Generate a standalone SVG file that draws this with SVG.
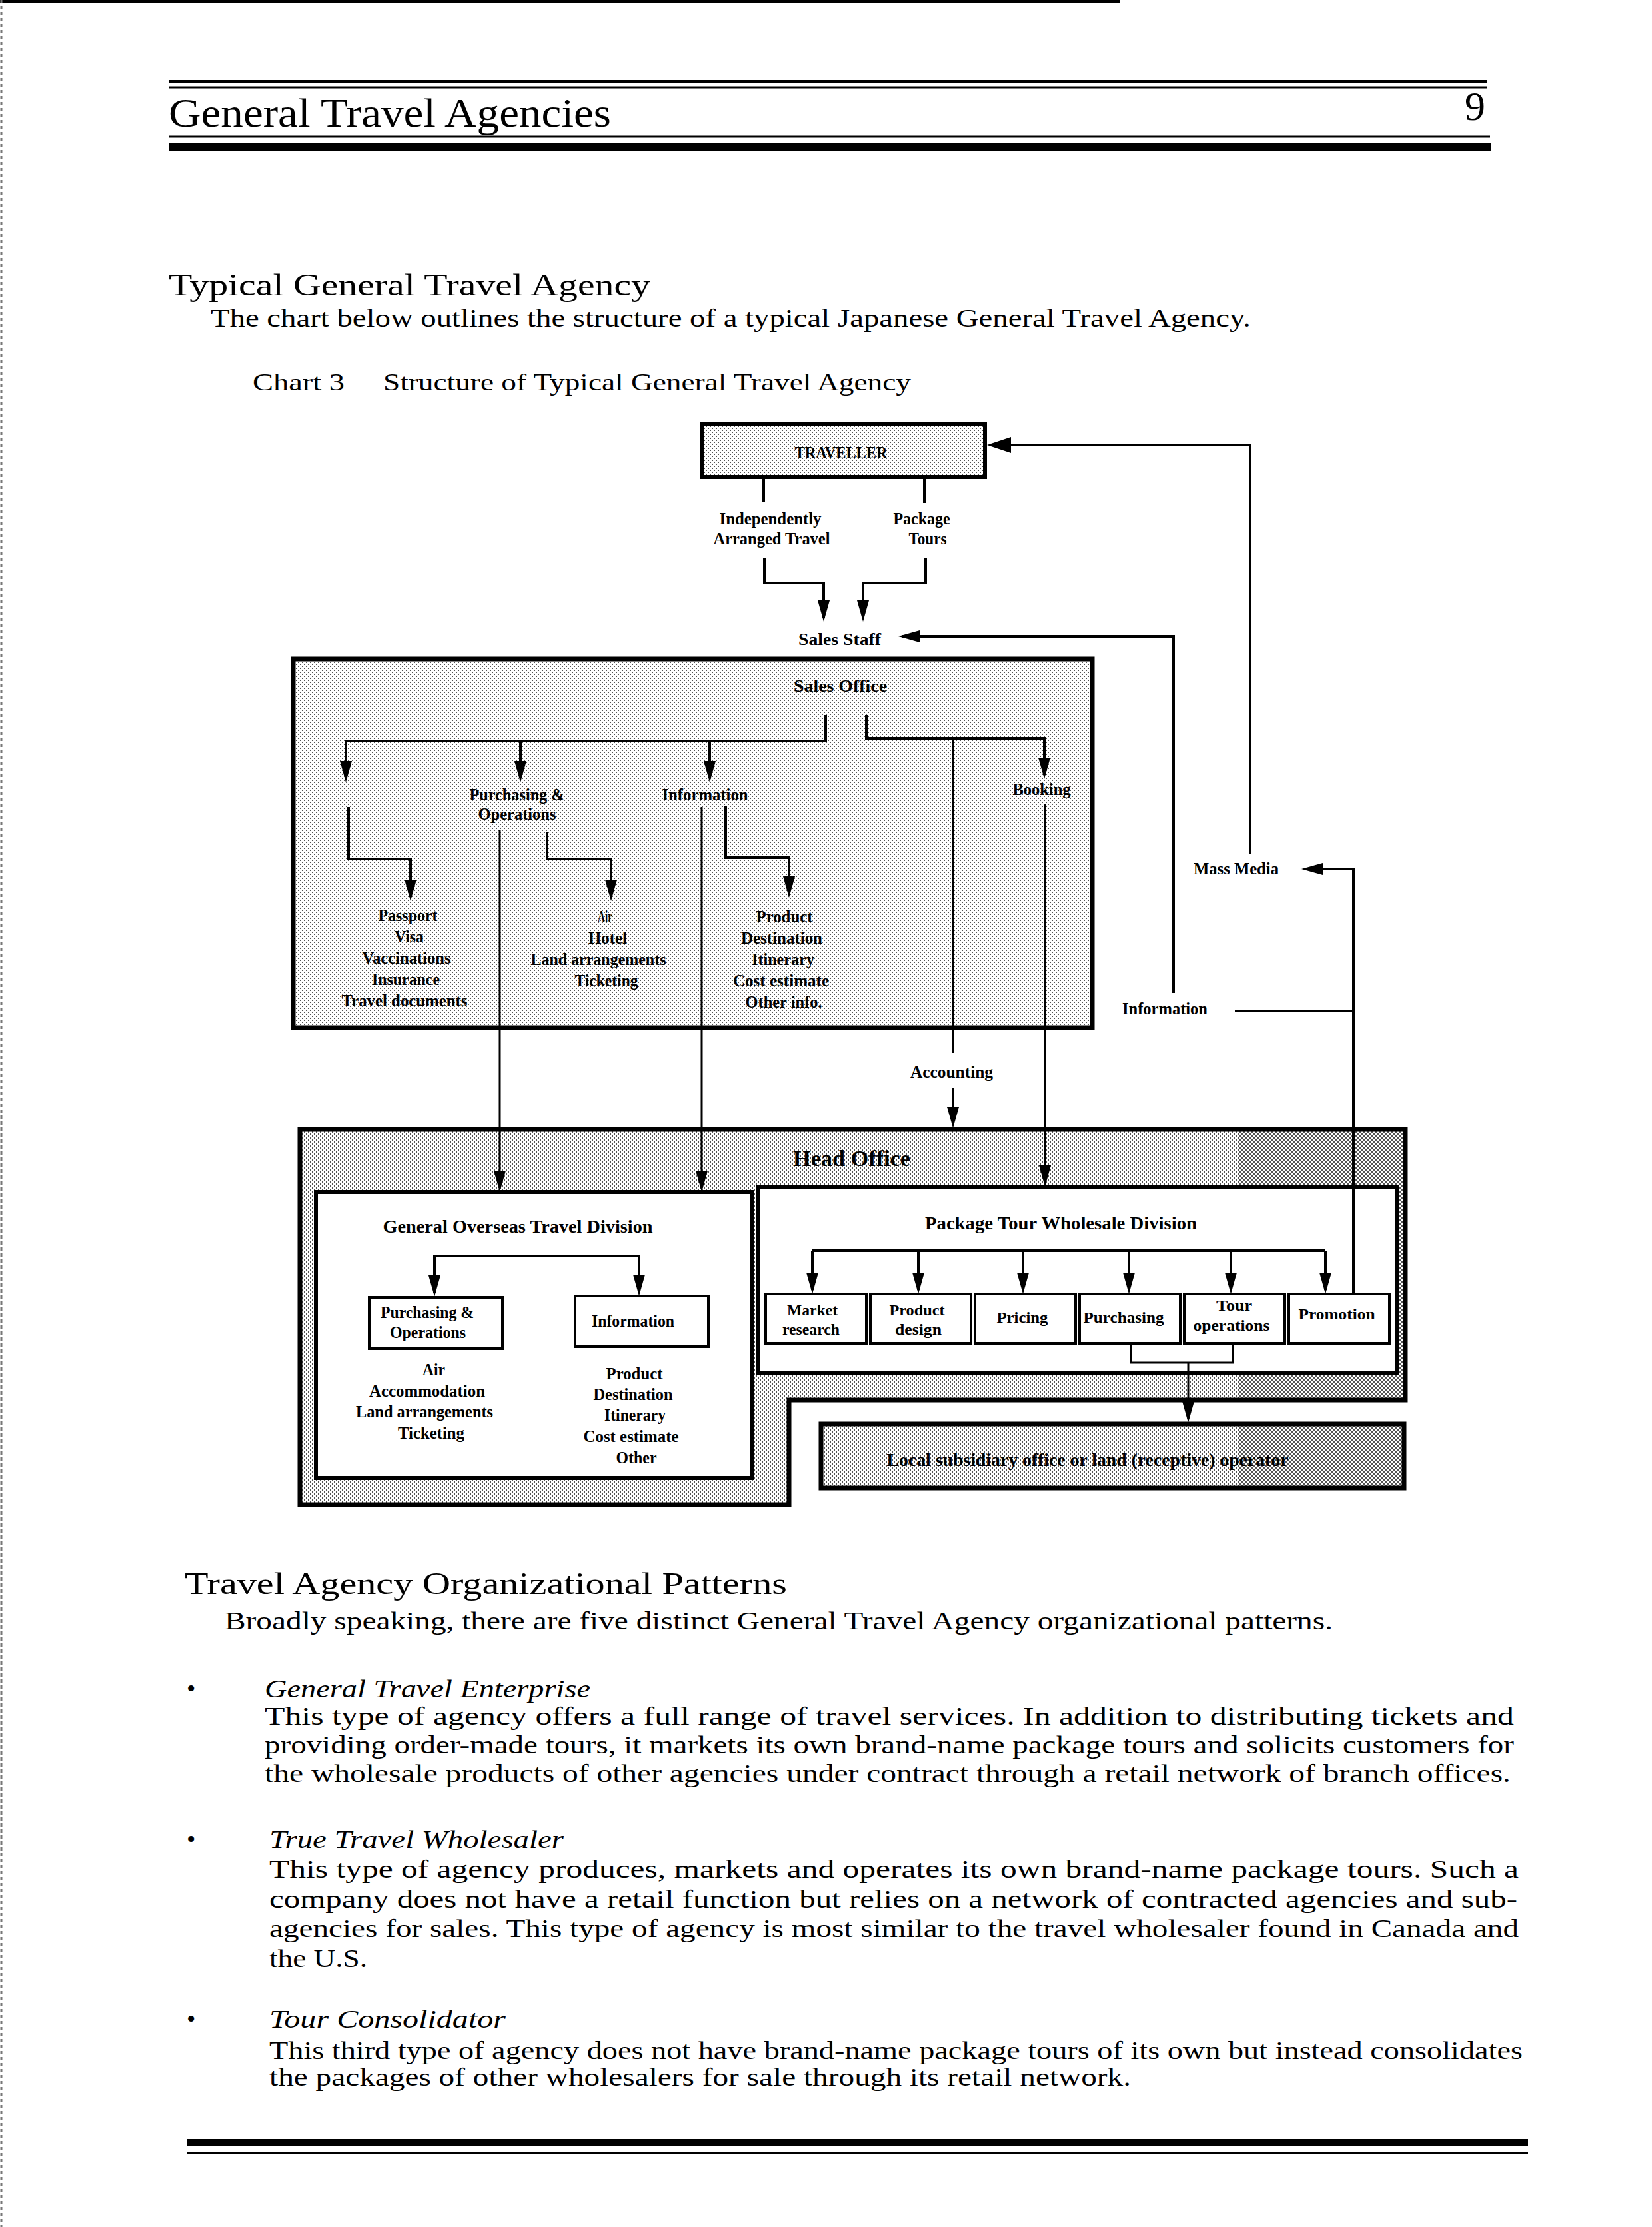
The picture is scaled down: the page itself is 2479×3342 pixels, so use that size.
<svg xmlns="http://www.w3.org/2000/svg" width="2479" height="3342" viewBox="0 0 2479 3342">
<defs>
<pattern id="dots" width="6" height="6" patternUnits="userSpaceOnUse"><rect width="6" height="6" fill="#fff"/><rect x="0" y="0" width="2" height="2" fill="#555"/><rect x="3" y="3" width="2" height="2" fill="#555"/></pattern>
<marker id="ah" viewBox="0 0 32 18" refX="26" refY="9" markerWidth="32" markerHeight="18" markerUnits="userSpaceOnUse" orient="auto"><path d="M0,0 L32,9 L0,18 Z" fill="#000"/></marker>
<marker id="ahb" viewBox="0 0 36 24" refX="30" refY="12" markerWidth="36" markerHeight="24" markerUnits="userSpaceOnUse" orient="auto"><path d="M0,0 L36,12 L0,24 Z" fill="#000"/></marker>
<style>
.t{font-family:"Liberation Serif","Times New Roman",serif;fill:#000}
.lb{font-weight:bold;font-size:26px;text-anchor:middle}
.bx{font-weight:bold;font-size:24px;text-anchor:middle}
.dv{font-weight:bold;font-size:28px;text-anchor:middle}
.bd{font-size:38px}
.hd{font-size:46px}
.it{font-style:italic}
.ln{fill:none;stroke:#000;stroke-width:4}
.lt{fill:none;stroke:#000;stroke-width:3}
</style>
</defs>
<rect width="2479" height="3342" fill="#fff"/>
<g id="page">
<line x1="0" y1="2" x2="1680" y2="2" stroke="#000" stroke-width="5"/>
<line x1="2" y1="0" x2="2" y2="3342" stroke="#777" stroke-width="3" stroke-dasharray="5 4"/>
<line x1="253" y1="122" x2="2232" y2="122" stroke="#000" stroke-width="4"/>
<line x1="253" y1="131" x2="2232" y2="131" stroke="#000" stroke-width="3"/>
<line x1="253" y1="205" x2="2236" y2="205" stroke="#000" stroke-width="3"/>
<rect x="253" y="215" width="1984" height="12" fill="#000"/>
<text class="t" x="253" y="190" font-size="62" textLength="664" lengthAdjust="spacingAndGlyphs">General Travel Agencies</text>
<text class="t" x="2229" y="180" font-size="62" text-anchor="end">9</text>
<text class="t hd" x="253" y="443" textLength="723" lengthAdjust="spacingAndGlyphs">Typical General Travel Agency</text>
<text class="t bd" x="316" y="490" textLength="1561" lengthAdjust="spacingAndGlyphs">The chart below outlines the structure of a typical Japanese General Travel Agency.</text>
<text class="t" x="379" y="586" font-size="36" textLength="138" lengthAdjust="spacingAndGlyphs">Chart 3</text>
<text class="t" x="575" y="586" font-size="36" textLength="792" lengthAdjust="spacingAndGlyphs">Structure of Typical General Travel Agency</text>
</g>
<g id="nodes">
<g id="traveller"><rect x="1054" y="636" width="424" height="80" fill="url(#dots)" stroke="#000" stroke-width="6"/><text class="t lb" x="1262" y="688" textLength="139" lengthAdjust="spacingAndGlyphs">TRAVELLER</text></g>
<g id="independent"><text class="t lb" x="1156" y="787" textLength="153" lengthAdjust="spacingAndGlyphs">Independently</text><text class="t lb" x="1158" y="817" textLength="175" lengthAdjust="spacingAndGlyphs">Arranged Travel</text></g>
<g id="package"><text class="t lb" x="1383" y="787" textLength="85" lengthAdjust="spacingAndGlyphs">Package</text><text class="t lb" x="1392" y="817" textLength="57" lengthAdjust="spacingAndGlyphs">Tours</text></g>
<g id="sales-staff"><text class="t lb" x="1260" y="968" textLength="124" lengthAdjust="spacingAndGlyphs">Sales Staff</text></g>
<g id="sales-office"><rect x="440" y="989" width="1199" height="553" fill="url(#dots)" stroke="#000" stroke-width="7"/><text class="t lb" x="1261" y="1038" textLength="140" lengthAdjust="spacingAndGlyphs">Sales Office</text></g>
<g id="so-purchasing"><text class="t lb" x="776" y="1201" textLength="143" lengthAdjust="spacingAndGlyphs">Purchasing &amp;</text><text class="t lb" x="776" y="1230" textLength="117" lengthAdjust="spacingAndGlyphs">Operations</text></g>
<g id="so-information"><text class="t lb" x="1058" y="1201" textLength="129" lengthAdjust="spacingAndGlyphs">Information</text></g>
<g id="so-booking"><text class="t lb" x="1563" y="1193" textLength="87" lengthAdjust="spacingAndGlyphs">Booking</text></g>
<g id="so-docs">
<text class="t lb" x="612" y="1382" textLength="89" lengthAdjust="spacingAndGlyphs">Passport</text>
<text class="t lb" x="614" y="1414" textLength="44" lengthAdjust="spacingAndGlyphs">Visa</text>
<text class="t lb" x="610" y="1446" textLength="133" lengthAdjust="spacingAndGlyphs">Vaccinations</text>
<text class="t lb" x="609" y="1478" textLength="102" lengthAdjust="spacingAndGlyphs">Insurance</text>
<text class="t lb" x="607" y="1510" textLength="189" lengthAdjust="spacingAndGlyphs">Travel documents</text>
</g>
<g id="so-services">
<text class="t lb" x="908" y="1384" textLength="22" lengthAdjust="spacingAndGlyphs">Air</text>
<text class="t lb" x="912" y="1416" textLength="58" lengthAdjust="spacingAndGlyphs">Hotel</text>
<text class="t lb" x="898" y="1448" textLength="203" lengthAdjust="spacingAndGlyphs">Land arrangements</text>
<text class="t lb" x="910" y="1480" textLength="95" lengthAdjust="spacingAndGlyphs">Ticketing</text>
</g>
<g id="so-info-list">
<text class="t lb" x="1177" y="1384" textLength="85" lengthAdjust="spacingAndGlyphs">Product</text>
<text class="t lb" x="1173" y="1416" textLength="122" lengthAdjust="spacingAndGlyphs">Destination</text>
<text class="t lb" x="1175" y="1448" textLength="94" lengthAdjust="spacingAndGlyphs">Itinerary</text>
<text class="t lb" x="1172" y="1480" textLength="144" lengthAdjust="spacingAndGlyphs">Cost estimate</text>
<text class="t lb" x="1176" y="1512" textLength="115" lengthAdjust="spacingAndGlyphs">Other info.</text>
</g>
<g id="mass-media"><text class="t lb" x="1855" y="1312" textLength="128" lengthAdjust="spacingAndGlyphs">Mass Media</text></g>
<g id="information-out"><text class="t lb" x="1748" y="1522" textLength="128" lengthAdjust="spacingAndGlyphs">Information</text></g>
<g id="accounting"><text class="t lb" x="1428" y="1617" textLength="124" lengthAdjust="spacingAndGlyphs">Accounting</text></g>
<g id="head-office"><path d="M450,1695 H2109 V2101 H1184 V2258 H450 Z" fill="url(#dots)" stroke="#000" stroke-width="7"/><text class="t" x="1278" y="1750" font-size="34" font-weight="bold" text-anchor="middle" textLength="176" lengthAdjust="spacingAndGlyphs">Head Office</text></g>
<g id="gotd"><rect x="474" y="1789" width="654" height="429" fill="#fff" stroke="#000" stroke-width="6"/><text class="t dv" x="777" y="1850" textLength="405" lengthAdjust="spacingAndGlyphs">General Overseas Travel Division</text></g>
<g id="gotd-purchasing"><rect x="554" y="1947" width="200" height="77" fill="#fff" stroke="#000" stroke-width="4"/><text class="t lb" x="641" y="1978" textLength="140" lengthAdjust="spacingAndGlyphs">Purchasing &amp;</text><text class="t lb" x="642" y="2008" textLength="114" lengthAdjust="spacingAndGlyphs">Operations</text></g>
<g id="gotd-information"><rect x="863" y="1945" width="200" height="76" fill="#fff" stroke="#000" stroke-width="4"/><text class="t lb" x="950" y="1991" textLength="124" lengthAdjust="spacingAndGlyphs">Information</text></g>
<g id="gotd-services">
<text class="t lb" x="651" y="2064" textLength="34" lengthAdjust="spacingAndGlyphs">Air</text>
<text class="t lb" x="641" y="2096" textLength="174" lengthAdjust="spacingAndGlyphs">Accommodation</text>
<text class="t lb" x="637" y="2127" textLength="206" lengthAdjust="spacingAndGlyphs">Land arrangements</text>
<text class="t lb" x="647" y="2159" textLength="100" lengthAdjust="spacingAndGlyphs">Ticketing</text>
</g>
<g id="gotd-info-list">
<text class="t lb" x="952" y="2070" textLength="85" lengthAdjust="spacingAndGlyphs">Product</text>
<text class="t lb" x="950" y="2101" textLength="119" lengthAdjust="spacingAndGlyphs">Destination</text>
<text class="t lb" x="953" y="2132" textLength="92" lengthAdjust="spacingAndGlyphs">Itinerary</text>
<text class="t lb" x="947" y="2164" textLength="143" lengthAdjust="spacingAndGlyphs">Cost estimate</text>
<text class="t lb" x="955" y="2196" textLength="61" lengthAdjust="spacingAndGlyphs">Other</text>
</g>
<g id="ptwd"><rect x="1138" y="1782" width="958" height="278" fill="#fff" stroke="#000" stroke-width="6"/><text class="t dv" x="1592" y="1845" textLength="408" lengthAdjust="spacingAndGlyphs">Package Tour Wholesale Division</text></g>
<g id="market-research"><rect x="1149" y="1942" width="151" height="74" fill="#fff" stroke="#000" stroke-width="4"/><text class="t bx" x="1219" y="1974" textLength="76" lengthAdjust="spacingAndGlyphs">Market</text><text class="t bx" x="1217" y="2003" textLength="86" lengthAdjust="spacingAndGlyphs">research</text></g>
<g id="product-design"><rect x="1306" y="1942" width="151" height="74" fill="#fff" stroke="#000" stroke-width="4"/><text class="t bx" x="1376" y="1974" textLength="83" lengthAdjust="spacingAndGlyphs">Product</text><text class="t bx" x="1378" y="2003" textLength="70" lengthAdjust="spacingAndGlyphs">design</text></g>
<g id="pricing"><rect x="1463" y="1942" width="151" height="74" fill="#fff" stroke="#000" stroke-width="4"/><text class="t bx" x="1534" y="1985" textLength="77" lengthAdjust="spacingAndGlyphs">Pricing</text></g>
<g id="purchasing"><rect x="1620" y="1942" width="151" height="74" fill="#fff" stroke="#000" stroke-width="4"/><text class="t bx" x="1686" y="1985" textLength="121" lengthAdjust="spacingAndGlyphs">Purchasing</text></g>
<g id="tour-operations"><rect x="1777" y="1942" width="151" height="74" fill="#fff" stroke="#000" stroke-width="4"/><text class="t bx" x="1852" y="1967" textLength="54" lengthAdjust="spacingAndGlyphs">Tour</text><text class="t bx" x="1848" y="1997" textLength="115" lengthAdjust="spacingAndGlyphs">operations</text></g>
<g id="promotion"><rect x="1934" y="1942" width="151" height="74" fill="#fff" stroke="#000" stroke-width="4"/><text class="t bx" x="2006" y="1980" textLength="115" lengthAdjust="spacingAndGlyphs">Promotion</text></g>
<g id="local-operator"><rect x="1232" y="2137" width="875" height="96" fill="url(#dots)" stroke="#000" stroke-width="7"/><text class="t dv" x="1632" y="2200" textLength="603" lengthAdjust="spacingAndGlyphs">Local subsidiary office or land (receptive) operator</text></g>
</g>
<g id="connectors">
<path class="ln" d="M1146,716 V753"/>
<path class="ln" d="M1387,716 V755"/>
<path class="ln" d="M1147,838 V875 H1236 V927" marker-end="url(#ah)"/>
<path class="ln" d="M1389,838 V875 H1295 V927" marker-end="url(#ah)"/>
<path class="ln" d="M1761,1490 V955 H1354" marker-end="url(#ah)"/>
<path class="ln" d="M1876,1281 V668 H1487" marker-end="url(#ahb)"/>
<path class="ln" d="M2031,1940 V1304 H1959" marker-end="url(#ah)"/>
<path class="ln" d="M1853,1517 H2031"/>
<path class="ln" d="M1239,1073 V1112 H517"/>
<path class="ln" d="M519,1112 V1168" marker-end="url(#ah)"/>
<path class="ln" d="M781,1112 V1168" marker-end="url(#ah)"/>
<path class="ln" d="M1065,1112 V1168" marker-end="url(#ah)"/>
<path class="ln" d="M1300,1073 V1108 H1567 V1163" marker-end="url(#ah)"/>
<path class="lt" d="M1430,1108 V1580"/>
<path class="lt" d="M1430,1633 V1687" marker-end="url(#ah)"/>
<path class="ln" d="M523,1211 V1289 H616 V1346" marker-end="url(#ah)"/>
<path class="ln" d="M821,1249 V1289 H917 V1346" marker-end="url(#ah)"/>
<path class="ln" d="M1089,1209 V1287 H1184 V1341" marker-end="url(#ah)"/>
<path class="lt" d="M750,1246 V1783" marker-end="url(#ah)"/>
<path class="lt" d="M1053,1211 V1783" marker-end="url(#ah)"/>
<path class="lt" d="M1568,1207 V1775" marker-end="url(#ah)"/>
<path class="ln" d="M805,1885 H652 V1940" marker-end="url(#ah)"/>
<path class="ln" d="M805,1885 H959 V1939" marker-end="url(#ah)"/>
<path class="ln" d="M1219,1877 H1989"/>
<path class="ln" d="M1219,1877 V1936" marker-end="url(#ah)"/>
<path class="ln" d="M1378,1877 V1936" marker-end="url(#ah)"/>
<path class="ln" d="M1535,1877 V1936" marker-end="url(#ah)"/>
<path class="ln" d="M1694,1877 V1936" marker-end="url(#ah)"/>
<path class="ln" d="M1847,1877 V1936" marker-end="url(#ah)"/>
<path class="ln" d="M1989,1877 V1936" marker-end="url(#ah)"/>
<path class="lt" d="M1697,2016 V2045 H1850 V2016"/>
<path class="lt" d="M1783,2045 V2129" marker-end="url(#ah)"/>
</g>
<g id="body-text">
<text class="t hd" x="277" y="2392" textLength="904" lengthAdjust="spacingAndGlyphs">Travel Agency Organizational Patterns</text>
<text class="t bd" x="337" y="2445" textLength="1663" lengthAdjust="spacingAndGlyphs">Broadly speaking, there are five distinct General Travel Agency organizational patterns.</text>
<text class="t bd" x="280" y="2547">•</text>
<text class="t bd it" x="397" y="2547" textLength="489" lengthAdjust="spacingAndGlyphs">General Travel Enterprise</text>
<text class="t bd" x="397" y="2588" textLength="1875" lengthAdjust="spacingAndGlyphs">This type of agency offers a full range of travel services.  In addition to distributing tickets and</text>
<text class="t bd" x="397" y="2631" textLength="1875" lengthAdjust="spacingAndGlyphs">providing order-made tours, it markets its own brand-name package tours and solicits customers for</text>
<text class="t bd" x="397" y="2674" textLength="1870" lengthAdjust="spacingAndGlyphs">the wholesale products of other agencies under contract through a retail network of branch offices.</text>
<text class="t bd" x="280" y="2773">•</text>
<text class="t bd it" x="404" y="2773" textLength="442" lengthAdjust="spacingAndGlyphs">True Travel Wholesaler</text>
<text class="t bd" x="404" y="2818" textLength="1875" lengthAdjust="spacingAndGlyphs">This type of agency produces, markets and operates its own brand-name package tours.  Such a</text>
<text class="t bd" x="404" y="2863" textLength="1873" lengthAdjust="spacingAndGlyphs">company does not have a retail function but relies on a network of contracted agencies and sub-</text>
<text class="t bd" x="404" y="2907" textLength="1875" lengthAdjust="spacingAndGlyphs">agencies for sales.  This type of agency is most similar to the travel wholesaler found in Canada and</text>
<text class="t bd" x="404" y="2952" textLength="147" lengthAdjust="spacingAndGlyphs">the U.S.</text>
<text class="t bd" x="280" y="3043">•</text>
<text class="t bd it" x="404" y="3043" textLength="355" lengthAdjust="spacingAndGlyphs">Tour Consolidator</text>
<text class="t bd" x="404" y="3090" textLength="1881" lengthAdjust="spacingAndGlyphs">This third type of agency does not have  brand-name package tours  of its own but instead consolidates</text>
<text class="t bd" x="404" y="3130" textLength="1293" lengthAdjust="spacingAndGlyphs">the packages of other wholesalers for sale through its retail network.</text>
<rect x="281" y="3210" width="2012" height="11" fill="#000"/>
<line x1="281" y1="3231" x2="2293" y2="3231" stroke="#000" stroke-width="3"/>
</g>
</svg>
